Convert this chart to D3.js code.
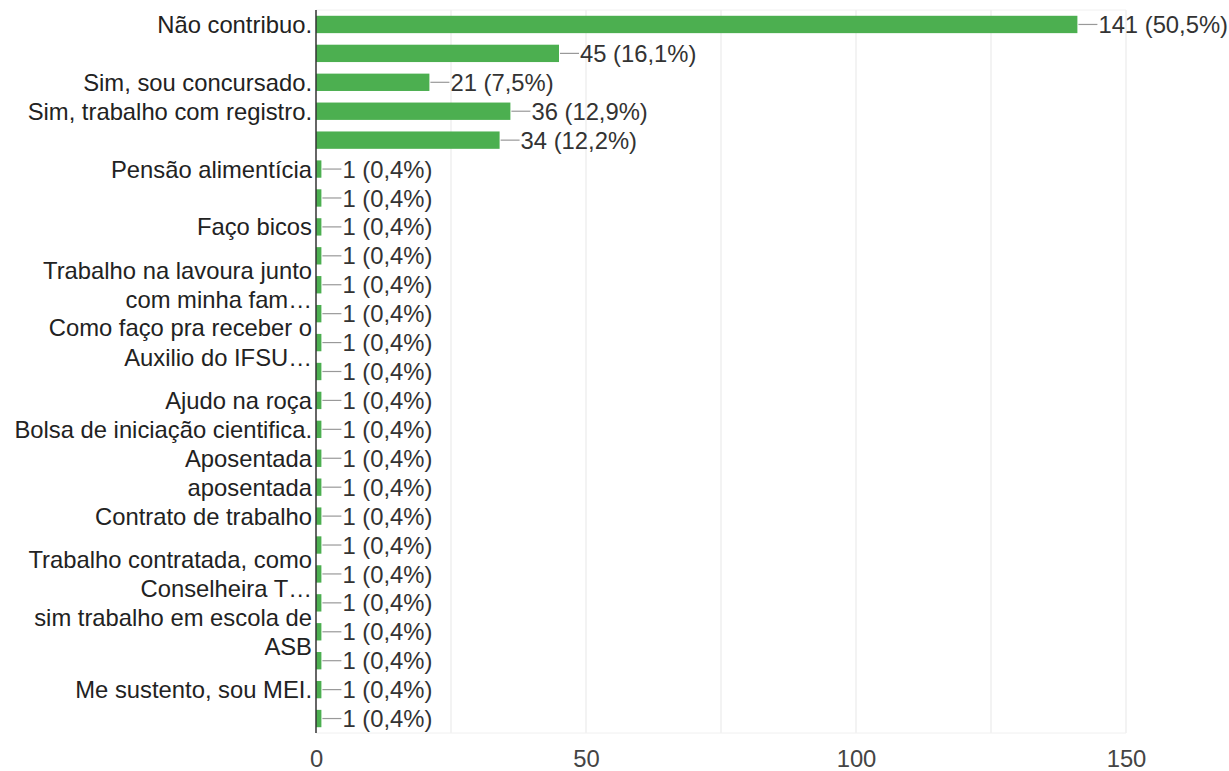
<!DOCTYPE html>
<html>
<head>
<meta charset="utf-8">
<script src="https://cdn.jsdelivr.net/npm/d3@7"></script>
<style>
  body { margin: 0; background: #fff; }
  text { font-family: "Liberation Sans", Arial, sans-serif; }
</style>
</head>
<body>
<div id="chart"></div>
<script>

// categories (\n = wrapped label, "" = label not shown)
var categories = [
  "Não contribuo.",
  "",
  "Sim, sou concursado.",
  "Sim, trabalho com registro.",
  "",
  "Pensão alimentícia",
  "",
  "Faço bicos",
  "",
  "Trabalho na lavoura junto\ncom minha fam…",
  "",
  "Como faço pra receber o\nAuxilio do IFSU…",
  "",
  "Ajudo na roça",
  "Bolsa de iniciação cientifica.",
  "Aposentada",
  "aposentada",
  "Contrato de trabalho",
  "",
  "Trabalho contratada, como\nConselheira T…",
  "",
  "sim trabalho em escola de\nASB",
  "",
  "Me sustento, sou MEI.",
  ""
];
var counts = [141, 45, 21, 36, 34, 1, 1, 1, 1, 1, 1, 1, 1, 1, 1, 1, 1, 1, 1, 1, 1, 1, 1, 1, 1];
var percents = ["50,5", "16,1", "7,5", "12,9", "12,2", "0,4", "0,4", "0,4", "0,4", "0,4", "0,4", "0,4", "0,4",
                "0,4", "0,4", "0,4", "0,4", "0,4", "0,4", "0,4", "0,4", "0,4", "0,4", "0,4", "0,4"];
var xTicks = [0, 50, 100, 150];
var gridTicks = [25, 50, 75, 100, 125, 150];

var w = 1229;
var h = 771;
var plotL = 316, plotR = 1126, plotT = 10, plotB = 733;
var fontSize = 23.8;

var svg = d3.select("#chart")
            .append("svg")
            .attr("width", w)
            .attr("height", h);

var idx = d3.range(categories.length);

var xScale = d3.scaleLinear()
               .domain([0, 150])
               .range([plotL, plotR]);

var yScale = d3.scaleBand()
               .domain(idx)
               .range([plotT, plotB])
               .paddingInner(0.4)
               .paddingOuter(0.2);

// light frame + gridlines
svg.append("g")
   .selectAll("line")
   .data(gridTicks)
   .enter()
   .append("line")
   .attr("x1", function(d) { return xScale(d); })
   .attr("x2", function(d) { return xScale(d); })
   .attr("y1", plotT)
   .attr("y2", plotB)
   .attr("stroke", "#ebebeb")
   .attr("stroke-width", 1.2);

svg.append("line")
   .attr("x1", plotL).attr("x2", plotR)
   .attr("y1", plotT).attr("y2", plotT)
   .attr("stroke", "#f0f0f0");
svg.append("line")
   .attr("x1", plotL).attr("x2", plotR)
   .attr("y1", plotB).attr("y2", plotB)
   .attr("stroke", "#f0f0f0");

// bars
svg.selectAll("rect.bar")
   .data(idx)
   .enter()
   .append("rect")
   .attr("class", "bar")
   .attr("x", xScale(0))
   .attr("y", function(i) { return yScale(i); })
   .attr("width", function(i) { return xScale(counts[i]) - xScale(0); })
   .attr("height", yScale.bandwidth())
   .attr("fill", "#4caf50");

// leader lines + value labels
function cy(i) { return yScale(i) + yScale.bandwidth() / 2; }

svg.selectAll("line.lead")
   .data(idx)
   .enter()
   .append("line")
   .attr("class", "lead")
   .attr("x1", function(i) { return xScale(counts[i]) + 1; })
   .attr("x2", function(i) { return xScale(counts[i]) + 20; })
   .attr("y1", cy)
   .attr("y2", cy)
   .attr("stroke", "#999")
   .attr("stroke-width", 1.2);

svg.selectAll("text.val")
   .data(idx)
   .enter()
   .append("text")
   .attr("class", "val")
   .attr("x", function(i) { return xScale(counts[i]) + 21; })
   .attr("y", cy)
   .attr("dy", "0.36em")
   .attr("font-size", fontSize)
   .attr("fill", "#333")
   .text(function(i) { return counts[i] + " (" + percents[i] + "%)"; });

// category labels
var lineH = 29.5;
var labels = svg.selectAll("text.cat")
   .data(idx)
   .enter()
   .append("text")
   .attr("class", "cat")
   .attr("text-anchor", "end")
   .attr("font-size", fontSize)
   .attr("fill", "#222");

labels.each(function(i) {
  var lines = categories[i] ? categories[i].split("\n") : [];
  var t = d3.select(this);
  lines.forEach(function(s, k) {
    t.append("tspan")
     .attr("x", plotL - 4)
     .attr("y", cy(i) + (k - (lines.length - 1) / 2) * lineH)
     .attr("dy", "0.36em")
     .text(s);
  });
});

// left axis line
svg.append("line")
   .attr("x1", plotL).attr("x2", plotL)
   .attr("y1", plotT).attr("y2", plotB)
   .attr("stroke", "#333")
   .attr("stroke-width", 1.5);

// x axis labels
var xAxis = d3.axisBottom(xScale)
              .tickValues(xTicks)
              .tickSize(0)
              .tickPadding(0);

var gx = svg.append("g")
            .attr("transform", "translate(0," + 750 + ")")
            .call(xAxis);
gx.select(".domain").remove();
gx.selectAll("text")
  .attr("font-size", fontSize)
  .attr("font-family", "Liberation Sans, Arial, sans-serif")
  .attr("fill", "#444");

</script>
</body>
</html>
